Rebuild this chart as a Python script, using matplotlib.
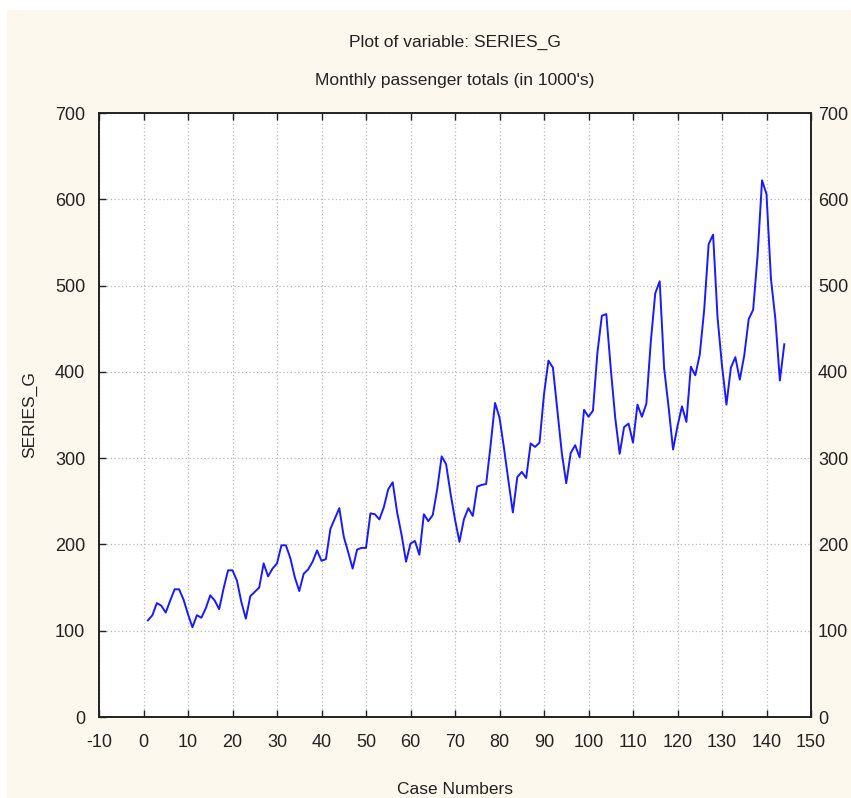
import matplotlib
matplotlib.use("Agg")
import matplotlib.pyplot as plt
from matplotlib.patches import Rectangle

plt.rcParams['font.family'] = ['Liberation Sans Narrow', 'Liberation Sans', 'DejaVu Sans']
plt.rcParams['axes.unicode_minus'] = False

case_numbers = list(range(1, 145))
series_g = [
    112, 118, 132, 129, 121, 135, 148, 148, 136, 119, 104, 118,
    115, 126, 141, 135, 125, 149, 170, 170, 158, 133, 114, 140,
    145, 150, 178, 163, 172, 178, 199, 199, 184, 162, 146, 166,
    171, 180, 193, 181, 183, 218, 230, 242, 209, 191, 172, 194,
    196, 196, 236, 235, 229, 243, 264, 272, 237, 211, 180, 201,
    204, 188, 235, 227, 234, 264, 302, 293, 259, 229, 203, 229,
    242, 233, 267, 269, 270, 315, 364, 347, 312, 274, 237, 278,
    284, 277, 317, 313, 318, 374, 413, 405, 355, 306, 271, 306,
    315, 301, 356, 348, 355, 422, 465, 467, 404, 347, 305, 336,
    340, 318, 362, 348, 363, 435, 491, 505, 404, 359, 310, 337,
    360, 342, 406, 396, 420, 472, 548, 559, 463, 407, 362, 405,
    417, 391, 419, 461, 472, 535, 622, 606, 508, 461, 390, 432,
]
x_ticks = list(range(-10, 151, 10))
y_ticks = list(range(0, 701, 100))

W, H = 851, 798
fig = plt.figure(figsize=(W / 100, H / 100), dpi=100, facecolor='white')
fig.patches.append(Rectangle((7 / W, 0), 1 - 7 / W, 1 - 10 / H, transform=fig.transFigure,
                             facecolor='#fdf8ee', edgecolor='none', zorder=-10))

left, right, top, bottom = 99, 811, 113, 717
ax = fig.add_axes([left / W, 1 - bottom / H, (right - left) / W, (bottom - top) / H])
ax.set_facecolor('white')
ax.plot(case_numbers, series_g, color='#1a1aff', lw=1.4)

ax.set_xlim(-10, 150)
ax.set_ylim(0, 700)
ax.set_xticks(x_ticks)
ax.set_yticks(y_ticks)
ax.grid(True, color='#b8b8b8', linestyle=(0, (1, 2)), lw=0.9)
ax.tick_params(direction='in', length=5, width=1, top=True, right=True,
               labelsize=13, colors='#222222')
ax.tick_params(axis='x', pad=12)
ax.tick_params(axis='y', pad=10)
for s in ax.spines.values():
    s.set_linewidth(1.4)
    s.set_color('#222222')

ax2 = ax.twinx()
ax2.set_ylim(ax.get_ylim())
ax2.set_yticks(y_ticks)
ax2.tick_params(direction='in', length=0, labelsize=13, colors='#222222', pad=5)
for s in ax2.spines.values():
    s.set_visible(False)

fig.text(0.5 * (left + right) / W, 1 - 789 / H, 'Case Numbers', ha='center', va='center',
         fontsize=12.5, color='#222222')
fig.text(30 / W, 1 - 415 / H, 'SERIES_G', ha='center', va='center', rotation=90,
         fontsize=12.5, color='#222222')
fig.text(0.5 * (left + right) / W, 1 - 42 / H, 'Plot of variable: SERIES_G', ha='center', va='center',
         fontsize=12.5, color='#222222')
fig.text(0.5 * (left + right) / W, 1 - 80 / H, "Monthly passenger totals (in 1000's)", ha='center',
         va='center', fontsize=12.5, color='#222222')

fig.savefig('out.png', dpi=100, facecolor=fig.get_facecolor())
